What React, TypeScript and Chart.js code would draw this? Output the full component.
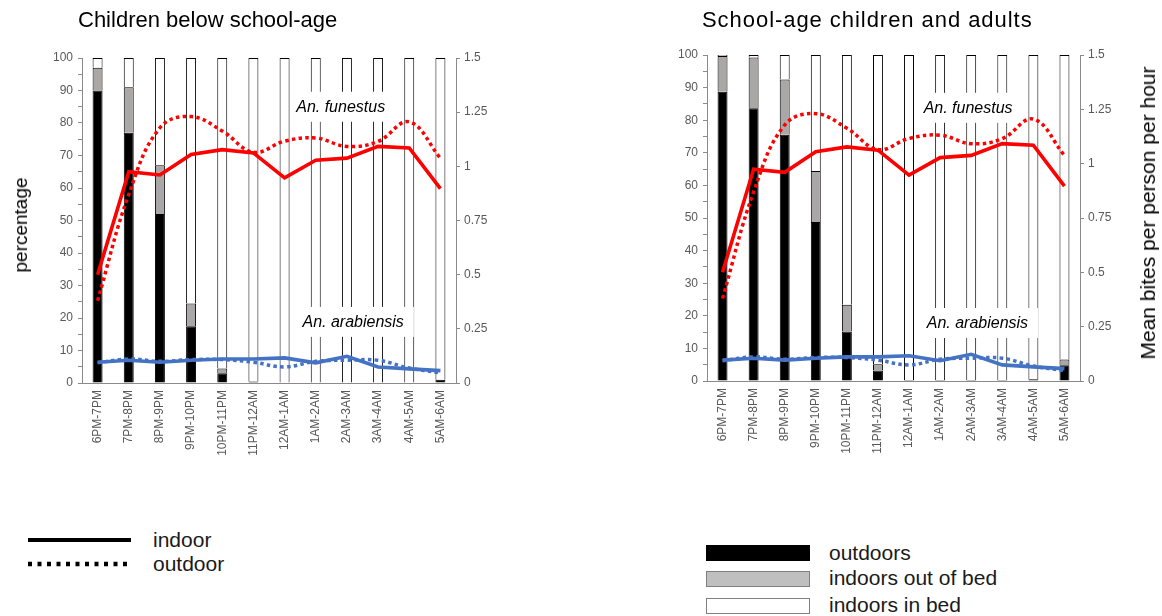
import React, { useEffect, useRef } from 'react';
import { Chart, registerables } from 'chart.js';

Chart.register(...registerables);

// ---------- data ----------
const categories = [
  '6PM-7PM', '7PM-8PM', '8PM-9PM', '9PM-10PM', '10PM-11PM', '11PM-12AM',
  '12AM-1AM', '1AM-2AM', '2AM-3AM', '3AM-4AM', '4AM-5AM', '5AM-6AM',
];

// Children below school-age (percentage)
const childOutdoors = [90, 77, 52, 17.5, 3, 0.5, 0, 0, 0, 0, 0, 1];
const childOutOfBed = [7, 14, 15, 7, 1.5, 0, 0, 0, 0, 0, 0, 0];
const childInBed = [3, 9, 33, 75.5, 95.5, 99.5, 100, 100, 100, 100, 100, 99];

// School-age children and adults (percentage)
const adultOutdoors = [88.7, 83.7, 75.5, 48.8, 15.2, 3.2, 0.3, 0.3, 0.3, 0.3, 0.5, 4.8];
const adultOutOfBed = [11, 15.5, 17, 15.6, 8.2, 1.9, 0, 0, 0, 0, 0, 1.8];
const adultInBed = [0.3, 0.8, 7.5, 35.6, 76.6, 94.9, 99.7, 99.7, 99.7, 99.7, 99.5, 93.4];

// Mean bites per person per hour
const funestusIndoor = [0.50, 0.975, 0.96, 1.055, 1.077, 1.062, 0.947, 1.028, 1.038, 1.092, 1.085, 0.897];
const funestusOutdoor = [0.38, 0.87, 1.178, 1.23, 1.163, 1.065, 1.116, 1.131, 1.092, 1.115, 1.205, 1.038];
const arabiensisIndoor = [0.096, 0.105, 0.096, 0.105, 0.111, 0.111, 0.116, 0.093, 0.123, 0.074, 0.065, 0.057];
const arabiensisOutdoor = [0.093, 0.111, 0.1, 0.108, 0.108, 0.096, 0.074, 0.1, 0.105, 0.105, 0.069, 0.047];

const percentTicks = { min: 0, max: 100, step: 5, labelEvery: 10 };
const bitesTicks = { min: 0, max: 1.5, step: 0.25 };

// ---------- styles ----------
const FONT = "'Liberation Sans', Arial, Helvetica, sans-serif";
const AXIS = '#8a8a8a';
const TICK_TEXT = '#595959';
const RED = '#ff0000';
const BLUE = '#4472c4';
const GRAY_BAR = '#aba7a7';

type Geo = {
  width: number;
  height: number;
  top: number;
  yWidth: number;
  y1Width: number;
  xHeight: number;
};

type Note = { text: string; x: number; y: number; padX: number; padY: number };

const leftNotes: Note[] = [
  { text: 'An. funestus', x: 7.8, y: 85, padX: 5, padY: 7 },
  { text: 'An. arabiensis', x: 8.2, y: 18.8, padX: 10, padY: 7 },
];
const rightNotes: Note[] = [
  { text: 'An. funestus', x: 7.9, y: 83.8, padX: 5, padY: 7 },
  { text: 'An. arabiensis', x: 8.2, y: 17.8, padX: 10, padY: 7 },
];

function notesPlugin(notes: Note[]) {
  return {
    id: 'speciesNotes',
    afterDatasetsDraw(chart: any) {
      const { ctx, scales } = chart;
      const xs = scales.x;
      const ys = scales.y;
      ctx.save();
      ctx.font = `italic 16px ${FONT}`;
      notes.forEach((n) => {
        const cx = xs.getPixelForValue(n.x);
        const cy = ys.getPixelForValue(n.y);
        const w = ctx.measureText(n.text).width;
        const h = 16;
        ctx.fillStyle = '#ffffff';
        ctx.fillRect(cx - w / 2 - n.padX, cy - h / 2 - n.padY, w + 2 * n.padX, h + 2 * n.padY);
        ctx.fillStyle = '#000000';
        ctx.textAlign = 'center';
        ctx.textBaseline = 'middle';
        ctx.fillText(n.text, cx, cy + 1);
      });
      ctx.restore();
    },
  };
}

function lineDs(label: string, data: number[], color: string, dotted: boolean) {
  return {
    type: 'line' as const,
    label,
    data,
    yAxisID: 'y1',
    borderColor: color,
    backgroundColor: color,
    borderWidth: dotted ? 3.5 : 3.6,
    borderDash: dotted ? [3.5, 3.3] : [],
    borderCapStyle: 'butt' as const,
    tension: dotted ? 0.4 : 0,
    pointRadius: 0,
    fill: false,
  };
}

function BiteChart(props: {
  outdoors: number[];
  outOfBed: number[];
  inBed: number[];
  geo: Geo;
  notes: Note[];
}) {
  const ref = useRef<HTMLCanvasElement | null>(null);
  const { outdoors, outOfBed, inBed, geo, notes } = props;

  useEffect(() => {
    if (!ref.current) return;
    const barCommon = {
      type: 'bar' as const,
      yAxisID: 'y',
      stack: 'people',
      borderColor: '#000000',
      borderWidth: 1,
      barPercentage: 0.32,
      categoryPercentage: 1,
    };
    const chart = new Chart(ref.current, {
      type: 'bar',
      data: {
        labels: categories,
        datasets: [
          lineDs('An. funestus indoor', funestusIndoor, RED, false),
          lineDs('An. funestus outdoor', funestusOutdoor, RED, true),
          lineDs('An. arabiensis indoor', arabiensisIndoor, BLUE, false),
          lineDs('An. arabiensis outdoor', arabiensisOutdoor, BLUE, true),
          { ...barCommon, label: 'outdoors', data: outdoors, backgroundColor: '#000000', order: 10 },
          { ...barCommon, label: 'indoors out of bed', data: outOfBed, backgroundColor: GRAY_BAR, order: 10 },
          { ...barCommon, label: 'indoors in bed', data: inBed, backgroundColor: '#ffffff', order: 10 },
        ] as any,
      },
      options: {
        responsive: false,
        maintainAspectRatio: false,
        animation: false,
        layout: { padding: { left: 0, top: geo.top, right: 0, bottom: 0 } },
        plugins: {
          legend: { display: false },
          tooltip: { enabled: false },
          title: { display: false },
        },
        scales: {
          x: {
            stacked: true,
            offset: true,
            grid: { display: false, drawTicks: false },
            border: { display: true, color: AXIS, width: 1 },
            ticks: {
              color: TICK_TEXT,
              font: { family: FONT, size: 12 },
              minRotation: 90,
              maxRotation: 90,
              autoSkip: false,
              padding: 7,
            },
            afterFit: (s: any) => {
              s.height = geo.xHeight;
            },
          },
          y: {
            stacked: true,
            position: 'left',
            min: percentTicks.min,
            max: percentTicks.max,
            grid: { drawOnChartArea: false, drawTicks: true, tickLength: 4, color: AXIS },
            border: { display: true, color: AXIS, width: 1 },
            ticks: {
              stepSize: percentTicks.step,
              maxTicksLimit: 40,
              autoSkip: false,
              color: TICK_TEXT,
              font: { family: FONT, size: 12 },
              padding: 5,
              callback: (v: any) => (Number(v) % percentTicks.labelEvery === 0 ? String(v) : ''),
            },
            afterFit: (s: any) => {
              s.width = geo.yWidth;
            },
          },
          y1: {
            position: 'right',
            min: bitesTicks.min,
            max: bitesTicks.max,
            grid: { drawOnChartArea: false, drawTicks: true, tickLength: 4, color: AXIS },
            border: { display: true, color: AXIS, width: 1 },
            ticks: {
              stepSize: bitesTicks.step,
              autoSkip: false,
              color: TICK_TEXT,
              font: { family: FONT, size: 12 },
              padding: 4,
              callback: (v: any) => String(Math.round(Number(v) * 100) / 100),
            },
            afterFit: (s: any) => {
              s.width = geo.y1Width;
            },
          },
        },
      } as any,
      plugins: [notesPlugin(notes)],
    });
    return () => chart.destroy();
  }, []);

  return (
    <canvas
      ref={ref}
      width={geo.width}
      height={geo.height}
      style={{ width: geo.width, height: geo.height, display: 'block' }}
    />
  );
}

const leftGeo: Geo = { width: 560, height: 470, top: 58, yWidth: 82, y1Width: 104, xHeight: 87 };
const rightGeo: Geo = { width: 562, height: 470, top: 55, yWidth: 107, y1Width: 82, xHeight: 89 };

const textStyle = (left: number, centerY: number, size: number): React.CSSProperties => ({
  position: 'absolute',
  left,
  top: centerY - 14,
  height: 28,
  lineHeight: '28px',
  fontSize: size,
  fontFamily: FONT,
  color: '#1a1a1a',
  whiteSpace: 'nowrap',
});

export default function App() {
  return (
    <div
      style={{
        position: 'absolute',
        left: 0,
        top: 0,
        width: 1162,
        height: 616,
        background: '#ffffff',
        overflow: 'hidden',
        fontFamily: FONT,
      }}
    >
      <div style={{ position: 'absolute', left: 0, top: 0 }}>
        <BiteChart outdoors={childOutdoors} outOfBed={childOutOfBed} inBed={childInBed} geo={leftGeo} notes={leftNotes} />
      </div>
      <div style={{ position: 'absolute', left: 600, top: 0 }}>
        <BiteChart outdoors={adultOutdoors} outOfBed={adultOutOfBed} inBed={adultInBed} geo={rightGeo} notes={rightNotes} />
      </div>

      {/* chart titles */}
      <div style={{ ...textStyle(78, 20, 22), color: '#000' }}>Children below school-age</div>
      <div style={{ ...textStyle(702, 20, 22), color: '#000', letterSpacing: '0.95px' }}>School-age children and adults</div>

      {/* axis titles */}
      <div
        style={{
          position: 'absolute',
          left: 21,
          top: 225,
          transform: 'translate(-50%, -50%) rotate(-90deg)',
          fontSize: 19,
          fontFamily: FONT,
          color: '#000',
          whiteSpace: 'nowrap',
        }}
      >
        percentage
      </div>
      <div
        style={{
          position: 'absolute',
          left: 1148,
          top: 213,
          transform: 'translate(-50%, -50%) rotate(-90deg)',
          fontSize: 21,
          fontFamily: FONT,
          color: '#000',
          whiteSpace: 'nowrap',
        }}
      >
        Mean bites per person per hour
      </div>

      {/* line style legend */}
      <svg style={{ position: 'absolute', left: 0, top: 520 }} width={140} height={60}>
        <line x1={28} y1={20} x2={131} y2={20} stroke="#000" strokeWidth={4} />
        <line x1={28} y1={44} x2={131} y2={44} stroke="#000" strokeWidth={4.5} strokeDasharray="4 5.5" />
      </svg>
      <div style={textStyle(153, 540, 21)}>indoor</div>
      <div style={textStyle(153, 564, 21)}>outdoor</div>

      {/* bar legend */}
      <div style={{ position: 'absolute', left: 706, top: 545, width: 104, height: 16, background: '#000', boxSizing: 'border-box' }} />
      <div style={{ position: 'absolute', left: 706, top: 571, width: 104, height: 16, background: '#bfbfbf', border: '1px solid #7f7f7f', boxSizing: 'border-box' }} />
      <div style={{ position: 'absolute', left: 706, top: 598, width: 104, height: 16, background: '#fff', border: '1px solid #7f7f7f', boxSizing: 'border-box' }} />
      <div style={textStyle(829, 553, 21)}>outdoors</div>
      <div style={textStyle(829, 578, 21)}>indoors out of bed</div>
      <div style={textStyle(829, 605, 21)}>indoors in bed</div>
    </div>
  );
}
